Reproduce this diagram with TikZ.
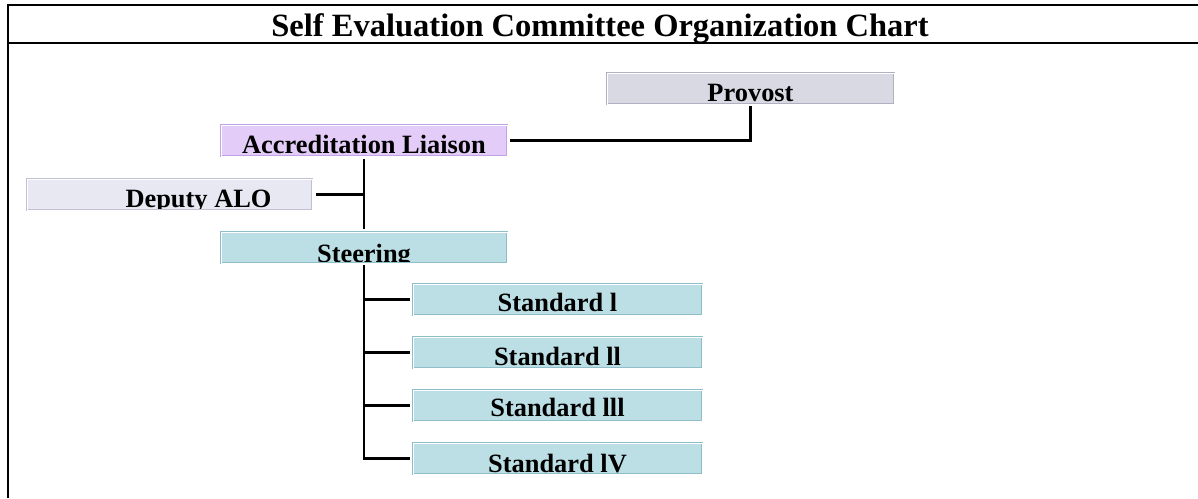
\documentclass[tikz,border=0pt]{standalone}
\usepackage{fontspec}
\setmainfont{Liberation Serif}
\definecolor{provfill}{HTML}{D9D9E3}
\definecolor{provline}{HTML}{B0B0C2}
\definecolor{accfill}{HTML}{E3CCF8}
\definecolor{accline}{HTML}{C2A2E6}
\definecolor{depfill}{HTML}{E8E8F3}
\definecolor{depline}{HTML}{C0C0D2}
\definecolor{stfill}{HTML}{BCDFE5}
\definecolor{stline}{HTML}{90BEC8}
\begin{document}
\begin{tikzpicture}[x=1pt,y=-1pt,
  orgbox/.style={rectangle, inner sep=0pt, outer sep=0pt,
    minimum height=31pt, line width=0.8pt, double=white, double distance=0.9pt},
  boxtext/.style={draw=none, fill=none, inner sep=0pt, anchor=base,
    font=\bfseries\fontsize{26.4}{30}\selectfont},
  link/.style={line width=2.3pt, black},
  frameline/.style={line width=2.6pt, black}]
\useasboundingbox (0,0) rectangle (1198,498);
% frame
\draw[frameline] (8,498) -- (8,5) -- (1198,5);
\draw[frameline] (8,43) -- (1198,43);
\node[anchor=base, inner sep=0pt, font=\bfseries\fontsize{32.5}{36}\selectfont] (title) at (600,36) {Self Evaluation Committee Organization Chart};
% boxes
\node[orgbox, minimum width=287pt, fill=provfill, draw=provline,
  path picture={\node[boxtext] at ([yshift=3pt]path picture bounding box.south) {Provost};}]
  (prov) at (750.5,88.5) {};
\node[orgbox, minimum width=286pt, fill=accfill, draw=accline,
  path picture={\node[boxtext] at ([yshift=3pt]path picture bounding box.south) {Accreditation Liaison};}]
  (acc) at (364,140.5) {};
\node[orgbox, minimum width=285pt, fill=depfill, draw=depline,
  path picture={\node[boxtext] at ([xshift=29pt,yshift=3pt]path picture bounding box.south) {Deputy ALO};}]
  (dep) at (169.5,194.5) {};
\node[orgbox, minimum width=286pt, fill=stfill, draw=stline,
  path picture={\node[boxtext] at ([yshift=1pt]path picture bounding box.south) {Steering};}]
  (steer) at (364,247.5) {};
\node[orgbox, minimum width=289pt, fill=stfill, draw=stline,
  path picture={\node[boxtext] at ([yshift=3.3pt]path picture bounding box.south) {Standard l};}]
  (s1) at (557.5,299.5) {};
\node[orgbox, minimum width=289pt, fill=stfill, draw=stline,
  path picture={\node[boxtext] at ([yshift=3pt]path picture bounding box.south) {Standard ll};}]
  (s2) at (557.5,352.5) {};
\node[orgbox, minimum width=289pt, fill=stfill, draw=stline,
  path picture={\node[boxtext] at ([yshift=4.5pt]path picture bounding box.south) {Standard lll};}]
  (s3) at (557.5,405.5) {};
\node[orgbox, minimum width=289pt, fill=stfill, draw=stline,
  path picture={\node[boxtext] at ([yshift=1.8pt]path picture bounding box.south) {Standard lV};}]
  (s4) at (557.5,458.5) {};
% connectors
\draw[link, shorten <=3pt, shorten >=2pt] (acc.east) -| (prov.south);
\draw[link, shorten <=3pt, shorten >=3pt] (acc.south) -- (steer.north);
\draw[link, shorten <=4pt] (dep.east) -- (dep.east -| acc.south);
\draw[link, shorten <=2pt] (steer.south) |- ([xshift=-3pt]s4.west);
\draw[link, shorten >=3pt] (steer.south |- s1.west) -- (s1.west);
\draw[link, shorten >=3pt] (steer.south |- s2.west) -- (s2.west);
\draw[link, shorten >=3pt] (steer.south |- s3.west) -- (s3.west);
\end{tikzpicture}
\end{document}
